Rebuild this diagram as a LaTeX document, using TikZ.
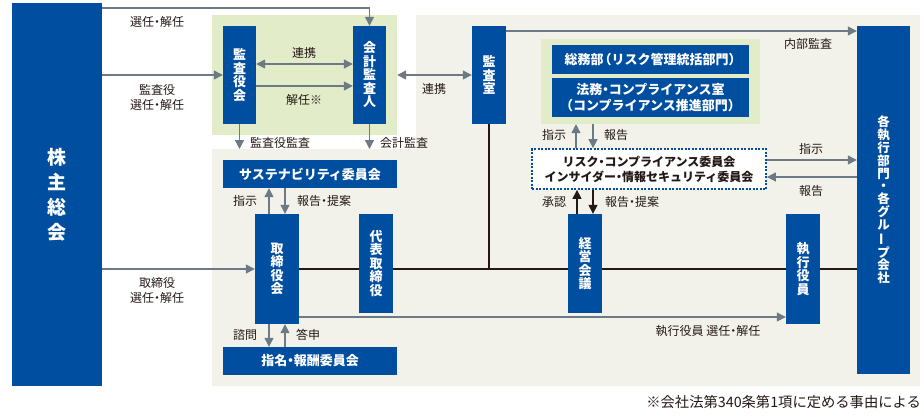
\documentclass[tikz,border=0pt]{standalone}
\usepackage{fontspec}
\setmainfont{Noto Sans CJK JP}
\usetikzlibrary{arrows.meta}

\definecolor{boxblue}{RGB}{0,78,160}
\definecolor{zonegreen}{RGB}{226,236,200}
\definecolor{zonebeige}{RGB}{243,242,234}
\definecolor{linegray}{RGB}{107,122,133}
\definecolor{ink}{RGB}{35,24,21}

\tikzset{
  box/.style={fill=boxblue, text=white, inner sep=0pt, align=center,
    font=\bfseries\fontsize{13}{13.5}\selectfont},
  zone/.style={inner sep=0pt},
  lbl/.style={inner sep=0pt, align=center, text=ink,
    font=\fontsize{12}{15}\selectfont},
  garrow/.style={draw=linegray, line width=1.3pt, -{Triangle[width=9pt,length=9pt]}},
  gdouble/.style={draw=linegray, line width=1.3pt, {Triangle[width=9pt,length=9pt]}-{Triangle[width=9pt,length=9pt]}},
  barrow/.style={draw=ink, line width=1.3pt, -{Triangle[width=9pt,length=9pt]}},
  mainline/.style={draw=ink, line width=2pt}
}
\newcommand{\tatebar}{\rotatebox[origin=c]{90}{ー}}
\newcommand{\naka}{\kern-0.25em・\kern-0.25em}
\newcommand{\kakkoL}{\kern-0.4em（}
\newcommand{\kakkoR}{）\kern-0.4em}

\begin{document}
\begin{tikzpicture}[x=1pt,y=-1pt]
    \useasboundingbox (0,0) rectangle (924,416);

    % background zones
    \fill[zonebeige] (212,149) -- (416,149) -- (416,15) -- (920,15) -- (920,386) -- (212,386) -- cycle;
    \node[zone, fill=zonegreen, minimum width=185pt, minimum height=120pt] (auditzone) at (304.5,75) {};
    \node[zone, fill=zonegreen, minimum width=219pt, minimum height=85pt] (riskzone) at (650.5,81.5) {};
    \coordinate (lowtop) at (0,149);
    \coordinate (topy) at (0,8);
    \coordinate (naibu) at (0,31);

    % boxes
    \node[box, minimum width=90pt, minimum height=383pt,
          font=\bfseries\fontsize{19}{25}\selectfont] (kabunushi) at (57,194.5) {株\\主\\総\\会};
    \node[box, minimum width=33pt, minimum height=98pt] (kansayakukai) at (239.5,75) {監\\査\\役\\会};
    \node[box, minimum width=33pt, minimum height=98pt] (kaikei) at (369.5,75) {会\\計\\監\\査\\人};
    \node[box, minimum width=34pt, minimum height=98pt] (kansashitsu) at (489,75) {監\\査\\室};
    \node[box, minimum width=197pt, minimum height=29pt] (somu) at (650.5,59.5) {総務部\kakkoL リスク管理統括部門\kakkoR};
    \node[box, minimum width=197pt, minimum height=39pt,
          font=\bfseries\fontsize{13}{15.5}\selectfont] (homu) at (650.5,97.5) {法務\naka コンプライアンス室\\\kakkoL コンプライアンス推進部門\kakkoR};
    \node[box, fill=white, text=ink, draw=boxblue, line width=1.8pt,
          dash pattern=on 2pt off 1.5pt, minimum width=234pt, minimum height=40pt,
          font=\bfseries\fontsize{12}{15}\selectfont] (riskbox) at (649,169)
          {リスク\naka コンプライアンス委員会\\インサイダー\naka 情報セキュリティ委員会};
    \node[box, minimum width=53pt, minimum height=348pt,
          font=\bfseries\fontsize{12.5}{12.8}\selectfont] (kakushikko) at (883.5,200)
          {各\\執\\行\\部\\門\\・\\各\\グ\\ル\\\tatebar\\プ\\会\\社};
    \node[box, minimum width=174pt, minimum height=28pt] (sustain) at (310,174) {サステナビリティ委員会};
    \node[box, minimum width=44pt, minimum height=110pt] (torishimari) at (277,269) {取\\締\\役\\会};
    \node[box, minimum width=34pt, minimum height=99pt] (daihyo) at (376,263.5) {代\\表\\取\\締\\役};
    \node[box, minimum width=174pt, minimum height=28pt] (shimei) at (310,361) {指名\naka 報酬委員会};
    \node[box, minimum width=34pt, minimum height=99pt] (keiei) at (585,263.5) {経\\営\\会\\議};
    \node[box, minimum width=34pt, minimum height=110pt] (shikko) at (803,269) {執\\行\\役\\員};

    % shareholders
    \draw[garrow] (kabunushi.east |- topy) -| (kaikei.north);
    \node[lbl] (l-sennin) at (157,22) {選任\naka 解任};
    \draw[garrow] (kabunushi.east |- kansayakukai.west) -- (kansayakukai.west);
    \node[lbl] (l-kansayaku) at (157,97) {監査役\\選任\naka 解任};
    \draw[garrow] (kabunushi.east |- torishimari.west) -- (torishimari.west);
    \node[lbl] (l-torishimari) at (157,290) {取締役\\選任\naka 解任};

    % audit
    \draw[gdouble] ([yshift=11pt]kansayakukai.east) -- ([yshift=11pt]kaikei.west);
    \node[lbl] (l-renkei1) at (304,53) {連携};
    \draw[garrow] ([yshift=-11pt]kansayakukai.east) -- ([yshift=-11pt]kaikei.west);
    \node[lbl] (l-kainin) at (304,100) {解任※};
    \draw[gdouble] (auditzone.east |- kansashitsu.west) -- (kansashitsu.west);
    \node[lbl] (l-renkei2) at (434,89) {連携};
    \draw[garrow] (kansayakukai.south) -- (kansayakukai.south |- lowtop);
    \node[lbl, anchor=west] (l-kansa1) at (250,143) {監査役監査};
    \draw[garrow] (kaikei.south) -- (kaikei.south |- lowtop);
    \node[lbl, anchor=west] (l-kansa2) at (380,143) {会計監査};
    \draw[garrow] (kansashitsu.east |- naibu) -- (kakushikko.west |- naibu);
    \node[lbl] (l-naibu) at (808,44) {内部監査};

    % risk committee
    \draw[garrow] ([xshift=-73pt]riskbox.north) -- ([xshift=-73pt]riskbox.north |- riskzone.south);
    \node[lbl] (l-shiji1) at (554,135) {指示};
    \draw[garrow] ([xshift=-56pt]riskbox.north |- riskzone.south) -- ([xshift=-56pt]riskbox.north);
    \node[lbl] (l-hokoku1) at (616,135) {報告};
    \draw[garrow] ([yshift=9pt]riskbox.east) -- ([yshift=9pt]riskbox.east -| kakushikko.west);
    \node[lbl] (l-shiji2) at (811,149) {指示};
    \draw[garrow] ([yshift=-8pt]riskbox.east -| kakushikko.west) -- ([yshift=-8pt]riskbox.east);
    \node[lbl] (l-hokoku2) at (811,191) {報告};
    \draw[barrow] ([xshift=-8pt]keiei.north) -- ([xshift=-8pt]keiei.north |- riskbox.south);
    \node[lbl] (l-shonin) at (554,202) {承認};
    \draw[barrow] ([xshift=8pt]keiei.north |- riskbox.south) -- ([xshift=8pt]keiei.north);
    \node[lbl] (l-teian1) at (632,202) {報告\naka 提案};

    % board
    \draw[garrow] ([xshift=-8pt]torishimari.north) -- ([xshift=-8pt]torishimari.north |- sustain.south);
    \node[lbl] (l-shiji3) at (245,201) {指示};
    \draw[garrow] ([xshift=8pt]torishimari.north |- sustain.south) -- ([xshift=8pt]torishimari.north);
    \node[lbl] (l-teian2) at (324,201) {報告\naka 提案};
    \draw[garrow] ([xshift=-8pt]torishimari.south) -- ([xshift=-8pt]torishimari.south |- shimei.north);
    \node[lbl] (l-shimon) at (245,335) {諮問};
    \draw[garrow] ([xshift=8pt]torishimari.south |- shimei.north) -- ([xshift=8pt]torishimari.south);
    \node[lbl] (l-toshin) at (308,335) {答申};

    % execution line
    \draw[mainline] (torishimari.east) -- (daihyo.west |- torishimari.east);
    \draw[mainline] (daihyo.east |- torishimari.east) -- (keiei.west |- torishimari.east);
    \draw[mainline] (keiei.east |- torishimari.east) -- (shikko.west);
    \draw[mainline] (shikko.east) -- (kakushikko.west |- shikko.east);
    \draw[mainline] (kansashitsu.south) -- (kansashitsu.south |- torishimari.east);
    \draw[garrow] ([yshift=-48pt]torishimari.east) -- ([yshift=-48pt]torishimari.east -| shikko.west);
    \node[lbl] (l-shikko) at (708,331) {執行役員 選任\naka 解任};

    \node[lbl, anchor=east, font=\fontsize{14.3}{15}\selectfont] (note) at (921,402) {※会社法第340条第1項に定める事由による};
\end{tikzpicture}
\end{document}
